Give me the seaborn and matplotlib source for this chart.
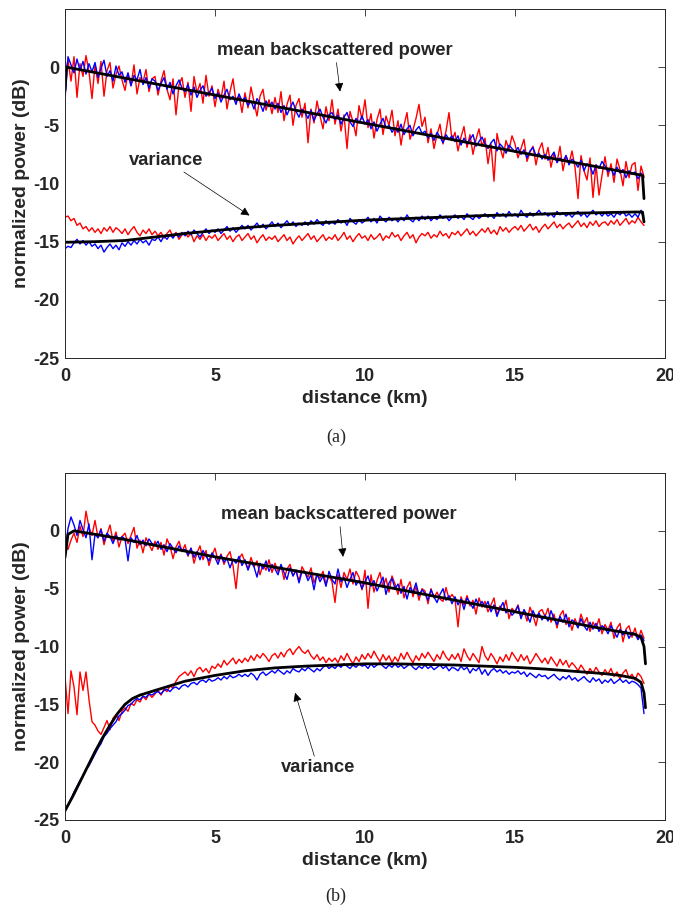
import numpy as np
import pandas as pd
import matplotlib
matplotlib.use("Agg")
import matplotlib.pyplot as plt
import seaborn as sns

# ---------------- data (dB vs km, samples every 0.1 km from 0) ----------------
a_mean_red = [
 -0.5, 0.6, -1.2, 0.9, -2.6, 0.3, -0.8, 1.0, -0.4, -2.7,
 0.2, -1.4, 0.5, -2.5, -0.3, 0.4, -1.8, -0.6, 0.1, -1.1,
 -2.0, -0.5, -1.6, 0.2, -2.3, -0.9, -1.3, -0.2, -2.1, -1.0,
 -0.8, -2.4, -1.2, -0.3, -1.9, -2.8, -1.0, -4.1, -1.5, -0.9,
 -2.6, -1.3, -3.8, -0.8, -2.2, -1.4, -3.1, -0.7, -2.5, -1.6,
 -3.4, -1.9, -2.7, -1.2, -3.6, -2.1, -1.0, -3.0, -2.4, -3.9,
 -2.2, -3.5, -1.7, -3.0, -4.2, -2.5, -1.9, -3.7, -2.8, -4.0,
 -2.6, -3.9, -2.1, -4.6, -3.2, -2.4, -5.0, -3.3, -2.7, -4.3,
 -3.1, -6.5, -3.6, -4.8, -2.9, -4.2, -5.3, -3.4, -4.6, -2.8,
 -4.9, -3.6, -5.5, -4.1, -7.0, -3.8, -4.7, -5.9, -3.3, -4.5,
 -2.8, -5.2, -4.0, -6.1, -4.5, -3.6, -5.8, -4.2, -5.0, -3.7,
 -5.9, -4.6, -6.7, -5.0, -3.9, -6.2, -5.4, -4.4, -3.2, -5.1,
 -4.3, -6.5, -5.3, -7.0, -5.8, -4.9, -6.6, -5.5, -3.9, -6.3,
 -5.6, -7.2, -6.0, -5.1, -6.9, -5.8, -7.5, -6.2, -5.3, -6.8,
 -6.1, -8.3, -6.6, -9.8, -5.7, -6.9, -7.8, -6.3, -7.1, -5.9,
 -6.6, -7.8, -7.0, -6.2, -8.1, -7.3, -6.8, -8.4, -7.1, -6.5,
 -7.9, -6.9, -8.6, -7.4, -8.2, -6.8, -8.9, -7.6, -8.3, -7.2,
 -8.6, -11.3, -7.6, -8.9, -9.7, -7.8, -11.2, -8.4, -11.0, -9.3,
 -7.7, -9.4, -8.3, -9.9, -7.9, -8.8, -10.2, -8.1, -9.5, -8.4,
 -8.2, -10.6, -8.5, -9.4]

a_mean_blue = [
 -2.8, 0.9, 0.2, -0.5, 0.7, -0.3, 0.5, -0.6, 0.3, -0.4,
 0.4, -0.9, -0.1, 0.6, -0.8, -0.3, -1.2, 0.1, -0.7, -0.4,
 -1.3, -0.5, -1.6, -0.7, -1.1, -0.2, -1.5, -0.9, -1.8, -1.0,
 -1.2, -2.0, -1.4, -0.9, -1.9, -1.3, -2.3, -1.6, -1.1, -1.8,
 -2.1, -1.5, -2.4, -1.7, -2.6, -2.0, -1.6, -2.5, -2.2, -1.8,
 -2.7, -2.2, -3.0, -2.4, -1.9, -2.8, -2.5, -3.2, -2.3, -2.9,
 -2.6, -3.3, -2.9, -3.6, -2.7, -3.1, -3.8, -2.9, -3.4, -3.0,
 -3.6, -3.1, -3.9, -3.3, -4.1, -3.5, -3.0, -3.8, -4.3, -3.6,
 -3.9, -4.4, -3.7, -4.6, -4.0, -3.6, -4.3, -4.8, -4.1, -3.9,
 -4.5, -4.1, -4.9, -4.3, -3.9, -4.7, -5.1, -4.4, -4.8, -4.2,
 -4.9, -4.5, -5.3, -4.7, -5.5, -4.9, -4.4, -5.2, -5.0, -5.6,
 -5.2, -5.6, -4.9, -5.8, -5.3, -5.0, -5.9, -5.4, -5.1, -5.7,
 -5.5, -6.1, -5.7, -6.3, -5.6, -6.0, -6.5, -5.8, -6.2, -5.9,
 -6.4, -5.9, -6.7, -6.1, -6.6, -6.2, -5.8, -6.8, -6.4, -6.0,
 -6.6, -7.0, -6.5, -6.2, -7.2, -6.6, -6.9, -7.4, -6.7, -7.0,
 -7.3, -6.9, -7.5, -7.1, -7.8, -7.2, -6.9, -7.6, -7.4, -7.9,
 -7.5, -8.0, -7.7, -7.3, -8.2, -7.8, -8.1, -7.6, -8.4, -7.9,
 -8.2, -8.6, -8.0, -8.9, -8.3, -8.5, -9.2, -8.4, -8.7, -8.1,
 -8.5, -9.0, -8.7, -9.3, -8.6, -9.1, -8.8, -9.5, -8.9, -9.2,
 -9.0, -9.6, -9.1, -9.5]

a_var_red = [
 -12.9, -12.8, -13.2, -13.0, -13.6, -13.4, -13.9, -13.7, -14.1, -13.8,
 -14.2, -13.9, -14.3, -13.8, -14.1, -13.7, -14.2, -13.8, -14.0, -14.3,
 -13.9, -14.4, -14.0, -13.7, -14.2, -14.5, -14.0, -14.3, -13.9, -14.4,
 -14.1, -14.5, -14.2, -14.7, -14.3, -14.0, -14.6, -14.2, -14.8, -14.4,
 -14.2, -14.6, -14.3, -15.0, -14.5, -14.8, -14.4, -14.9, -14.5, -14.7,
 -14.4, -14.9, -14.6, -14.3, -14.8, -14.5, -15.0, -14.6, -14.4, -14.9,
 -14.6, -14.3, -14.8, -14.5, -15.1, -14.7, -14.4, -14.9, -14.6, -14.8,
 -14.5, -15.0, -14.7, -14.4, -14.9, -14.6, -15.2, -14.8, -14.5, -14.9,
 -14.6, -14.3, -14.8, -14.5, -15.0, -14.7, -14.4, -14.9, -14.6, -14.8,
 -14.4, -14.9, -14.6, -14.2, -14.8, -14.5, -15.0, -14.6, -14.3, -14.7,
 -14.5, -14.9, -14.4, -14.8, -14.6, -14.3, -14.9, -14.5, -14.7, -14.2,
 -14.6, -14.4, -14.9, -14.5, -14.2, -14.7, -14.4, -15.1, -14.6, -14.3,
 -14.5, -14.2, -14.7, -14.4, -14.6, -14.1, -14.5, -14.3, -14.7, -14.2,
 -14.4, -14.1, -14.5, -14.2, -13.9, -14.4, -14.1, -14.5, -14.2, -13.9,
 -14.2, -13.8, -14.3, -14.0, -14.4, -13.7, -14.1, -13.8, -14.2, -13.9,
 -13.7, -14.0, -13.6, -14.1, -13.8, -13.5, -14.0, -13.7, -14.2, -13.8,
 -13.5, -13.9, -13.6, -13.3, -13.8, -13.5, -13.9, -13.6, -13.4, -13.8,
 -13.5, -13.2, -13.7, -13.4, -13.8, -13.3, -13.6, -13.2, -13.7, -13.4,
 -13.3, -13.6, -13.2, -13.5, -13.1, -13.6, -13.3, -13.0, -13.5, -13.2,
 -13.4, -12.9, -13.3, -13.6]

a_var_blue = [
 -15.6, -15.4, -15.5, -15.1, -14.8, -15.2, -14.9, -15.3, -15.0, -15.4,
 -15.2, -15.6, -15.3, -15.9, -15.5, -15.2, -15.6, -15.3, -15.7, -15.1,
 -15.4, -15.0, -15.3, -14.9, -15.2, -14.8, -15.1, -14.9, -15.3, -14.8,
 -14.9, -14.6, -15.0, -14.5, -14.8, -14.4, -14.7, -14.3, -14.6, -14.2,
 -14.5, -14.1, -14.4, -14.0, -14.3, -14.6, -14.2, -13.9, -14.3, -14.0,
 -14.2, -13.9, -14.3, -14.0, -13.7, -14.1, -13.8, -14.2, -13.9, -13.6,
 -13.9, -13.6, -14.0, -13.7, -13.4, -13.8, -13.5, -13.9, -13.6, -13.3,
 -13.7, -13.4, -13.8, -13.5, -13.2, -13.6, -13.3, -13.7, -13.4, -13.6,
 -13.3, -13.6, -13.2, -13.5, -13.1, -13.4, -13.6, -13.2, -13.5, -13.3,
 -13.5, -13.1, -13.4, -13.2, -13.6, -13.0, -13.3, -13.5, -13.1, -13.4,
 -13.2, -12.9, -13.3, -13.0, -13.4, -12.8, -13.1, -13.3, -12.9, -13.2,
 -13.0, -13.3, -12.9, -13.2, -12.7, -13.1, -13.3, -12.9, -13.2, -12.8,
 -13.1, -12.8, -13.2, -12.9, -13.1, -12.7, -13.0, -12.8, -13.2, -12.9,
 -12.7, -13.0, -12.8, -13.1, -12.6, -12.9, -13.1, -12.7, -13.0, -12.8,
 -12.6, -12.9, -12.7, -13.0, -12.5, -12.8, -12.6, -12.9, -12.4, -12.8,
 -12.6, -12.9, -12.3, -12.7, -12.9, -12.5, -12.8, -12.6, -12.3, -12.7,
 -12.5, -12.8, -12.6, -12.9, -12.4, -12.7, -12.5, -12.8, -12.6, -12.9,
 -12.6, -12.4, -12.8, -12.5, -12.9, -12.6, -12.3, -12.7, -12.5, -12.8,
 -12.5, -12.8, -12.6, -12.9, -12.5, -12.7, -12.4, -12.8, -12.6, -12.9,
 -12.6, -12.9, -12.3, -13.1]

a_mean_fit_x = [0.0, 0.05, 19.25, 19.3]
a_mean_fit_y = [-2.0, 0.0, -9.3, -11.3]
a_var_fit_x = [0, 1, 2, 3, 4, 5, 6, 7, 8, 9, 10, 11, 12, 13, 14, 15, 16, 17, 18, 19, 19.25, 19.3]
a_var_fit_y = [-15.05, -15.0, -14.9, -14.6, -14.3, -14.05, -13.8, -13.6, -13.45, -13.3,
               -13.15, -13.05, -12.95, -12.85, -12.75, -12.7, -12.62, -12.55, -12.5,
               -12.45, -12.45, -13.3]

b_mean_red = [
 -1.2, -1.6, -0.8, -0.2, -1.0, 0.4, -0.5, 1.7, 0.3, -0.4,
 0.9, -0.6, 0.2, -1.2, -0.3, 0.5, -0.9, -0.1, -1.4, -0.5,
 -0.2, -1.1, -0.4, 0.3, -1.5, -0.8, -1.9, -0.6, -1.2, -1.7,
 -0.9, -1.6, -1.0, -2.1, -0.7, -1.3, -2.4, -1.4, -0.9, -1.8,
 -1.2, -2.2, -1.5, -2.8, -1.9, -1.3, -2.5, -1.7, -3.0, -2.1,
 -1.5, -2.6, -2.0, -2.9, -2.2, -1.8, -3.0, -5.0, -2.4, -2.0,
 -2.7, -3.3, -2.3, -3.1, -2.6, -3.8, -2.9, -3.4, -2.5, -3.6,
 -2.8, -3.5, -3.0, -4.2, -3.3, -2.9, -3.9, -3.4, -4.4, -3.1,
 -3.6, -4.0, -3.2, -4.5, -3.8, -4.1, -3.5, -4.6, -3.9, -4.4,
 -6.2, -3.8, -4.9, -3.6, -4.2, -3.3, -4.6, -3.5, -4.0, -5.1,
 -3.4, -6.7, -3.8, -5.3, -4.3, -3.6, -4.9, -4.1, -5.3, -3.9,
 -4.6, -5.5, -4.2, -5.8, -4.9, -4.4, -5.7, -4.8, -6.0, -5.0,
 -5.2, -6.3, -5.0, -5.8, -5.3, -5.9, -6.1, -4.9, -5.9, -5.5,
 -5.9, -8.3, -5.7, -6.4, -5.6, -6.5, -6.0, -7.2, -5.8, -6.6,
 -6.1, -7.0, -6.4, -5.8, -7.3, -6.5, -6.9, -6.0, -7.6, -6.7,
 -7.0, -6.4, -7.5, -6.9, -7.8, -6.6, -7.3, -8.2, -7.0, -6.8,
 -7.4, -6.7, -7.9, -7.2, -8.4, -7.3, -6.9, -8.1, -7.5, -8.6,
 -7.6, -8.3, -7.2, -8.0, -7.5, -8.7, -7.9, -8.4, -7.6, -8.9,
 -8.1, -8.6, -7.9, -9.3, -8.4, -8.0, -9.6, -8.5, -8.2, -9.2,
 -8.4, -9.4, -8.6, -9.3]

b_mean_blue = [
 -1.8, 0.2, 1.2, 0.5, -0.4, 0.9, 0.1, -0.6, 0.6, -2.5,
 -0.3, -0.6, 0.1, -0.9, -0.2, -0.5, -1.1, -0.4, -0.8, -0.5,
 -0.7, -2.6, -0.6, -1.0, -0.4, -1.2, -0.8, -1.3, -0.7, -1.1,
 -1.3, -0.9, -1.6, -1.2, -1.8, -1.1, -1.5, -1.9, -1.3, -1.7,
 -1.6, -2.1, -1.5, -2.3, -1.8, -2.5, -1.7, -2.2, -2.6, -1.9,
 -2.3, -2.9, -2.1, -2.7, -2.4, -3.2, -2.5, -2.8, -2.2, -3.0,
 -2.5, -3.4, -2.7, -3.1, -4.0, -2.8, -3.3, -2.6, -3.5, -2.9,
 -3.3, -3.8, -2.9, -3.6, -4.2, -3.2, -3.9, -3.4, -4.5, -3.5,
 -3.6, -4.3, -3.8, -5.1, -3.7, -4.4, -3.9, -4.8, -3.5, -4.2,
 -4.6, -3.3, -4.4, -4.0, -4.9, -4.2, -3.6, -4.7, -4.3, -5.0,
 -4.4, -3.9, -4.8, -4.3, -5.2, -4.6, -4.0, -5.5, -4.5, -4.1,
 -5.0, -4.6, -5.4, -4.8, -5.9, -4.9, -5.3, -4.5, -5.6, -5.1,
 -5.4, -6.0, -5.1, -5.7, -6.2, -5.5, -5.0, -6.0, -5.6, -6.3,
 -5.7, -6.4, -5.9, -6.8, -5.8, -6.2, -6.7, -5.9, -6.5, -6.1,
 -6.6, -6.1, -7.0, -6.4, -7.4, -6.7, -6.2, -7.1, -6.8, -7.3,
 -7.0, -6.5, -7.6, -6.8, -7.3, -7.9, -6.9, -7.5, -7.1, -7.7,
 -7.3, -7.8, -6.9, -7.6, -8.1, -7.4, -7.9, -7.2, -8.3, -7.7,
 -7.9, -8.4, -7.6, -8.2, -8.6, -7.9, -8.5, -8.0, -8.7, -8.2,
 -8.4, -8.9, -8.2, -8.7, -9.2, -8.5, -9.0, -8.6, -9.3, -8.8,
 -8.9, -9.4, -9.0, -9.5]

b_var_red = [
 -12.6, -15.8, -12.1, -13.5, -15.9, -12.2, -13.8, -12.2, -14.6, -16.5,
 -16.8, -17.3, -17.6, -17.0, -16.4, -17.2, -16.2, -15.9, -16.4, -15.6,
 -15.3, -15.6, -14.9, -15.1, -14.6, -14.8, -14.3, -14.6, -14.1, -14.4,
 -14.1, -13.8, -14.2, -13.7, -13.9, -13.4, -13.6, -13.0, -12.6, -12.4,
 -12.2, -12.5, -12.1, -12.6, -12.0, -11.8, -12.2, -11.9, -12.3, -11.7,
 -11.9, -11.5, -11.8, -11.2, -11.6, -11.3, -11.0, -11.5, -11.1, -11.4,
 -11.0, -11.3, -10.8, -11.2, -10.7, -11.0, -10.6, -10.9, -11.3, -10.8,
 -10.6, -11.0, -10.5, -10.9, -10.4, -10.2, -10.7, -10.3, -10.0, -10.4,
 -10.6, -10.3, -10.8, -11.1, -10.7, -11.2, -10.9, -11.4, -11.0, -11.3,
 -11.0, -11.4, -10.8, -11.2, -10.6, -11.1, -11.5, -10.9, -11.3, -10.7,
 -11.1, -10.6, -11.0, -10.4, -10.9, -11.3, -10.7, -11.2, -10.8, -11.4,
 -10.9, -11.3, -10.6, -11.1, -10.5, -11.0, -11.4, -10.8, -11.2, -10.6,
 -11.0, -10.5, -10.9, -11.3, -10.7, -11.1, -10.4, -10.9, -11.2, -10.7,
 -11.1, -10.6, -11.3, -10.2, -10.8, -11.2, -10.6, -11.0, -11.4, -10.0,
 -10.8, -11.2, -10.6, -11.0, -11.5, -10.9, -11.3, -10.7, -11.2, -10.5,
 -10.9, -11.3, -10.7, -11.2, -10.8, -11.5, -11.1, -10.6, -11.0, -11.4,
 -11.0, -11.5, -10.9, -11.3, -11.7, -11.1, -11.6, -11.2, -11.8, -11.4,
 -11.7, -12.1, -11.6, -12.0, -12.4, -11.9, -12.3, -11.8, -12.2, -12.5,
 -12.0, -12.4, -11.9, -12.6, -12.2, -12.8, -12.3, -12.0, -12.7, -12.4,
 -12.9, -12.3, -12.6, -13.2]

b_var_blue = [
 -24.1, -23.7, -23.2, -22.6, -22.1, -21.6, -21.2, -20.6, -20.3, -19.8,
 -19.3, -18.8, -18.4, -17.8, -17.5, -17.1, -16.8, -16.5, -16.0, -15.8,
 -15.5, -15.1, -15.0, -14.7, -14.5, -14.6, -14.3, -14.4, -14.1, -14.2,
 -14.0, -13.9, -14.1, -13.8, -13.7, -13.9, -13.6, -13.5, -13.7, -13.4,
 -13.3, -13.5, -13.2, -13.1, -13.3, -13.0, -12.9, -13.1, -12.8, -13.0,
 -12.9, -12.7, -12.9, -12.6, -12.8, -12.5, -12.7, -12.6, -12.4, -12.6,
 -12.4, -12.6, -12.3, -12.5, -12.9, -12.4, -12.2, -12.5, -12.3, -12.1,
 -12.3, -12.0, -12.2, -12.4, -12.1, -12.3, -11.9, -12.1, -12.2, -11.9,
 -12.1, -11.8, -12.0, -12.2, -11.9, -12.1, -11.8, -11.6, -11.9, -11.7,
 -11.9, -11.6, -11.8, -11.5, -11.7, -11.9, -11.6, -11.8, -11.5, -11.7,
 -11.6, -11.9, -11.5, -11.8, -11.6, -11.4, -11.7, -11.9, -11.6, -11.8,
 -11.5, -11.8, -11.6, -11.9, -11.7, -11.5, -11.8, -12.0, -11.7, -11.9,
 -11.6, -11.9, -11.7, -12.0, -11.8, -11.6, -11.9, -11.7, -12.1, -11.8,
 -11.9, -12.1, -11.7, -12.0, -11.8, -12.3, -11.9, -12.1, -11.8, -12.4,
 -12.0, -12.5, -12.1, -11.9, -12.2, -12.0, -12.3, -12.1, -12.4, -12.2,
 -12.3, -12.1, -12.4, -12.2, -12.6, -12.3, -12.5, -12.7, -12.4, -12.6,
 -12.5, -12.8, -12.6, -12.4, -12.7, -12.9, -12.6, -12.8, -12.5, -12.9,
 -12.7, -13.0, -12.8, -12.6, -12.9, -13.1, -12.7, -13.0, -12.8, -13.2,
 -12.9, -13.1, -12.8, -13.2, -13.0, -12.8, -13.1, -12.9, -13.2, -13.0,
 -13.1, -13.3, -13.6, -15.8]

b_mean_fit_x = [0, 0.1, 0.3, 1, 2, 3, 4, 5, 6, 7, 8, 9, 10, 11, 12, 13, 14, 15, 16,
                17, 18, 19, 19.2, 19.3, 19.35]
b_mean_fit_y = [-2.3, -0.3, 0.0, -0.3, -0.75, -1.25, -1.75, -2.25, -2.7, -3.15, -3.6,
                -4.05, -4.5, -5.0, -5.5, -6.0, -6.5, -7.0, -7.5, -8.0, -8.5, -8.95,
                -9.2, -10.0, -11.5]
b_var_fit_x = [0, 0.25, 0.5, 0.75, 1.0, 1.25, 1.5, 1.75, 2.0, 2.25, 2.5, 3, 3.5, 4, 5,
               6, 7, 8, 9, 10, 11, 12, 13, 14, 15, 16, 17, 18, 18.5, 19, 19.2, 19.3, 19.35]
b_var_fit_y = [-24.2, -23.0, -21.7, -20.4, -19.1, -17.9, -16.8, -15.8, -15.0, -14.5,
               -14.2, -13.8, -13.4, -13.0, -12.5, -12.1, -11.85, -11.7, -11.6, -11.5,
               -11.5, -11.55, -11.6, -11.7, -11.8, -11.95, -12.15, -12.35, -12.5,
               -12.75, -13.1, -14.0, -15.3]

x_ticks = [0, 5, 10, 15, 20]
y_ticks = [-25, -20, -15, -10, -5, 0]
x_label = "distance (km)"
y_label = "normalized power (dB)"
captions = ["(a)", "(b)"]
ann_mean = "mean backscattered power"
ann_var = "variance"

# ---------------- style ----------------
sns.set_style("white")
plt.rcParams["font.family"] = ["Liberation Sans", "DejaVu Sans"]
plt.rcParams["axes.unicode_minus"] = False
TXT = "#262626"


def grid_x(vals):
    return np.arange(len(vals)) * 0.1


def draw_series(ax, x, y, color, lw):
    df = pd.DataFrame({"x": x, "y": y})
    sns.lineplot(data=df, x="x", y="y", ax=ax, color=color, linewidth=lw,
                 estimator=None, sort=False, legend=False)


fig = plt.figure(figsize=(6.73, 9.05), dpi=100)
ax_a = fig.add_axes([65 / 673, 1 - 358 / 905, 600 / 673, 349 / 905])
ax_b = fig.add_axes([65 / 673, 1 - 820 / 905, 600 / 673, 347 / 905])

panels = [
    (ax_a, a_mean_red, a_mean_blue, a_var_red, a_var_blue,
     (a_mean_fit_x, a_mean_fit_y), (a_var_fit_x, a_var_fit_y)),
    (ax_b, b_mean_red, b_mean_blue, b_var_red, b_var_blue,
     (b_mean_fit_x, b_mean_fit_y), (b_var_fit_x, b_var_fit_y)),
]

for ax, mr, mb, vr, vb, mfit, vfit in panels:
    draw_series(ax, grid_x(mr), mr, "#ff0000", 1.0)
    draw_series(ax, grid_x(vr), vr, "#ff0000", 1.0)
    draw_series(ax, grid_x(mb), mb, "#0000ff", 1.0)
    draw_series(ax, grid_x(vb), vb, "#0000ff", 1.0)
    draw_series(ax, mfit[0], mfit[1], "black", 2.0)
    draw_series(ax, vfit[0], vfit[1], "black", 2.0)

    ax.set_xlim(0, 20)
    ax.set_ylim(-25, 5)
    ax.set_xticks(x_ticks)
    ax.set_yticks(y_ticks)
    ax.set_xticklabels([str(t) for t in x_ticks], fontweight="bold", color=TXT, fontsize=13)
    ax.set_yticklabels([str(t) for t in y_ticks], fontweight="bold", color=TXT, fontsize=13)
    ax.tick_params(direction="in", length=5, width=0.6, top=True, right=True,
                   color=TXT)
    ax.tick_params(axis="x", pad=7)
    ax.tick_params(axis="y", pad=4)
    for s in ax.spines.values():
        s.set_color(TXT)
        s.set_linewidth(0.7)
        s.set_visible(True)
    ax.set_xlabel(x_label, fontweight="bold", fontsize=14, color=TXT, labelpad=4)
    ax.set_ylabel(y_label, fontweight="bold", fontsize=14, color=TXT, labelpad=2)

arrow = dict(arrowstyle="-|>", color="black", lw=0.5, mutation_scale=13, shrinkA=0, shrinkB=0)

ax_a.annotate(ann_mean, xy=(9.17, -2.1), xytext=(9.0, 1.4), ha="center", va="center",
              fontsize=13.2, fontweight="bold", arrowprops=arrow)
ax_a.annotate(ann_var, xy=(6.15, -12.75), xytext=(3.37, -8.0), ha="center", va="center",
              fontsize=13.2, fontweight="bold", arrowprops=arrow)
ax_b.annotate(ann_mean, xy=(9.27, -2.25), xytext=(9.13, 1.38), ha="center", va="center",
              fontsize=13.2, fontweight="bold", arrowprops=arrow)
ax_b.annotate(ann_var, xy=(7.67, -14.0), xytext=(8.43, -20.5), ha="center", va="center",
              fontsize=13.2, fontweight="bold", arrowprops=arrow)

fig.text(336 / 673, 1 - 437 / 905, captions[0], ha="center", va="center",
         fontsize=13, family=["Liberation Serif", "DejaVu Serif"])
fig.text(336 / 673, 1 - 896 / 905, captions[1], ha="center", va="center",
         fontsize=13, family=["Liberation Serif", "DejaVu Serif"])

fig.savefig("out.png", dpi=100)
